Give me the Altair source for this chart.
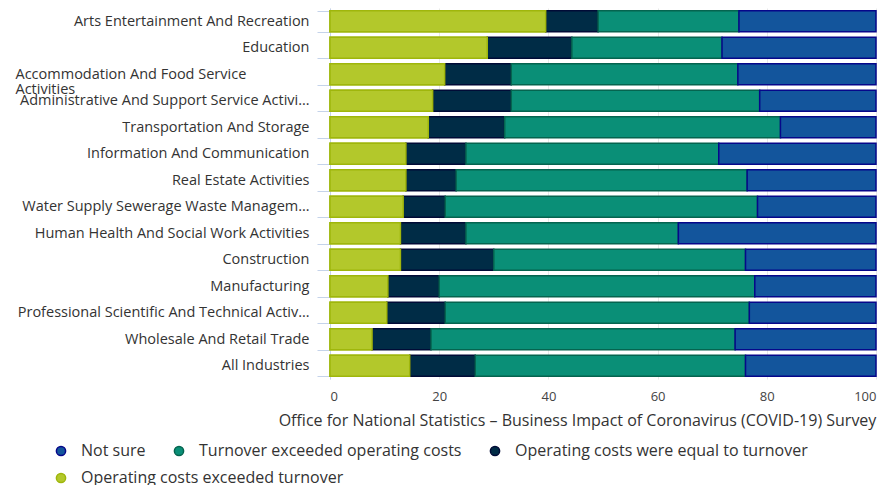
import altair as alt
import pandas as pd

industries = [
    "Arts Entertainment And Recreation",
    "Education",
    "Accommodation And Food Service Activities",
    "Administrative And Support Service Activities",
    "Transportation And Storage",
    "Information And Communication",
    "Real Estate Activities",
    "Water Supply Sewerage Waste Management And Remediation Activities",
    "Human Health And Social Work Activities",
    "Construction",
    "Manufacturing",
    "Professional Scientific And Technical Activities",
    "Wholesale And Retail Trade",
    "All Industries",
]
costs_exceeded = [39.5, 28.8, 21.0, 18.8, 18.0, 13.9, 13.9, 13.4, 12.9, 12.9, 10.6, 10.4, 7.7, 14.6]
costs_equal = [9.6, 15.5, 12.2, 14.4, 14.0, 11.0, 9.2, 7.7, 12.0, 17.1, 9.4, 10.7, 10.8, 12.0]
turnover_exceeded = [25.8, 27.5, 41.5, 45.5, 50.5, 46.3, 53.3, 57.2, 38.9, 46.1, 57.8, 55.7, 55.7, 49.5]
not_sure = [25.1, 28.2, 25.3, 21.3, 17.5, 28.8, 23.6, 21.7, 36.2, 23.9, 22.2, 23.2, 25.8, 23.9]

legend_order = [
    "Not sure",
    "Turnover exceeded operating costs",
    "Operating costs were equal to turnover",
    "Operating costs exceeded turnover",
]
fills = ["#13559c", "#0a8f77", "#002c46", "#b3c82b"]
strokes = ["#06078a", "#05644f", "#000b36", "#9fb60c"]

series = {
    "Operating costs exceeded turnover": costs_exceeded,
    "Operating costs were equal to turnover": costs_equal,
    "Turnover exceeded operating costs": turnover_exceeded,
    "Not sure": not_sure,
}
rows = []
for k, (name, vals) in enumerate(series.items()):
    for ind, v in zip(industries, vals):
        rows.append({"industry": ind, "category": name, "value": v, "stack_order": k})
df = pd.DataFrame(rows)

acc = "datum.value == 'Accommodation And Food Service Activities'"


def make_legend(values, y):
    return alt.Legend(
        title=None,
        orient="none",
        legendX=-277,
        legendY=y,
        direction="horizontal",
        values=values,
        symbolType="circle",
        symbolSize=85,
        symbolStrokeWidth=1.5,
        labelFontSize=16,
        labelColor="#333333",
        labelOffset=12,
        columnPadding=25,
        labelLimit=500,
    )


legend_top = make_legend(legend_order[:3], 435)
legend_bottom = make_legend(legend_order[3:], 462)

y_enc = alt.Y(
    "industry:N",
    sort=industries,
    title=None,
    scale=alt.Scale(paddingInner=0.2, paddingOuter=0.1),
    axis=alt.Axis(
        labelExpr=acc + " ? ['Accommodation And Food Service', 'Activities'] : datum.value",
        labelAlign={"condition": {"test": acc, "value": "left"}, "value": "right"},
        labelPadding={"condition": {"test": acc, "value": 302}, "value": 8},
        labelLineHeight=15,
        labelLimit=293,
        labelFontSize=14.5,
        labelColor="#333333",
        tickBand="extent",
        tickSize=13,
        tickColor="#c5d3ea",
        domainColor="#c5d3ea",
        grid=False,
    ),
)
x_enc = alt.X(
    "value:Q",
    stack="zero",
    scale=alt.Scale(domain=[0, 100], nice=False),
    title="Office for National Statistics \u2013 Business Impact of Coronavirus (COVID-19) Survey",
    axis=alt.Axis(
        values=[0, 20, 40, 60, 80, 100],
        domain=False,
        ticks=False,
        labelPadding=11,
        labelFontSize=13,
        labelColor="#444444",
        titleFontSize=16,
        titleFontWeight="normal",
        titleColor="#333333",
        titleX=247,
        titleAlign="center",
        titlePadding=9,
        gridColor="#e8e8e8",
    ),
)

bars = alt.Chart(df).mark_bar(strokeWidth=1.5).encode(
    y=y_enc,
    x=x_enc,
    fill=alt.Fill("category:N", scale=alt.Scale(domain=legend_order, range=fills), legend=legend_top),
    stroke=alt.Stroke("category:N", scale=alt.Scale(domain=legend_order, range=strokes), legend=legend_top),
    order=alt.Order("stack_order:Q"),
)

first_series = alt.Chart(df).transform_filter(
    alt.datum.category == legend_order[3]
).mark_bar(strokeWidth=1.5).encode(
    y=y_enc,
    x=x_enc,
    fill=alt.Fill("category:N", scale=alt.Scale(domain=legend_order[3:], range=fills[3:]), legend=legend_bottom),
    stroke=alt.Stroke("category:N", scale=alt.Scale(domain=legend_order[3:], range=strokes[3:]), legend=legend_bottom),
)

chart = alt.layer(bars, first_series).resolve_scale(
    fill="independent", stroke="independent"
).resolve_legend(
    fill="independent", stroke="independent"
).properties(
    width=546,
    height=371,
    autosize=alt.AutoSizeParams(type="none"),
    padding={"left": 322, "top": 0, "right": 1, "bottom": 106},
).configure(
    font="Open Sans",
).configure_view(
    strokeWidth=0,
)

chart.save("out.html", embed_options={"renderer": "svg", "actions": False})
